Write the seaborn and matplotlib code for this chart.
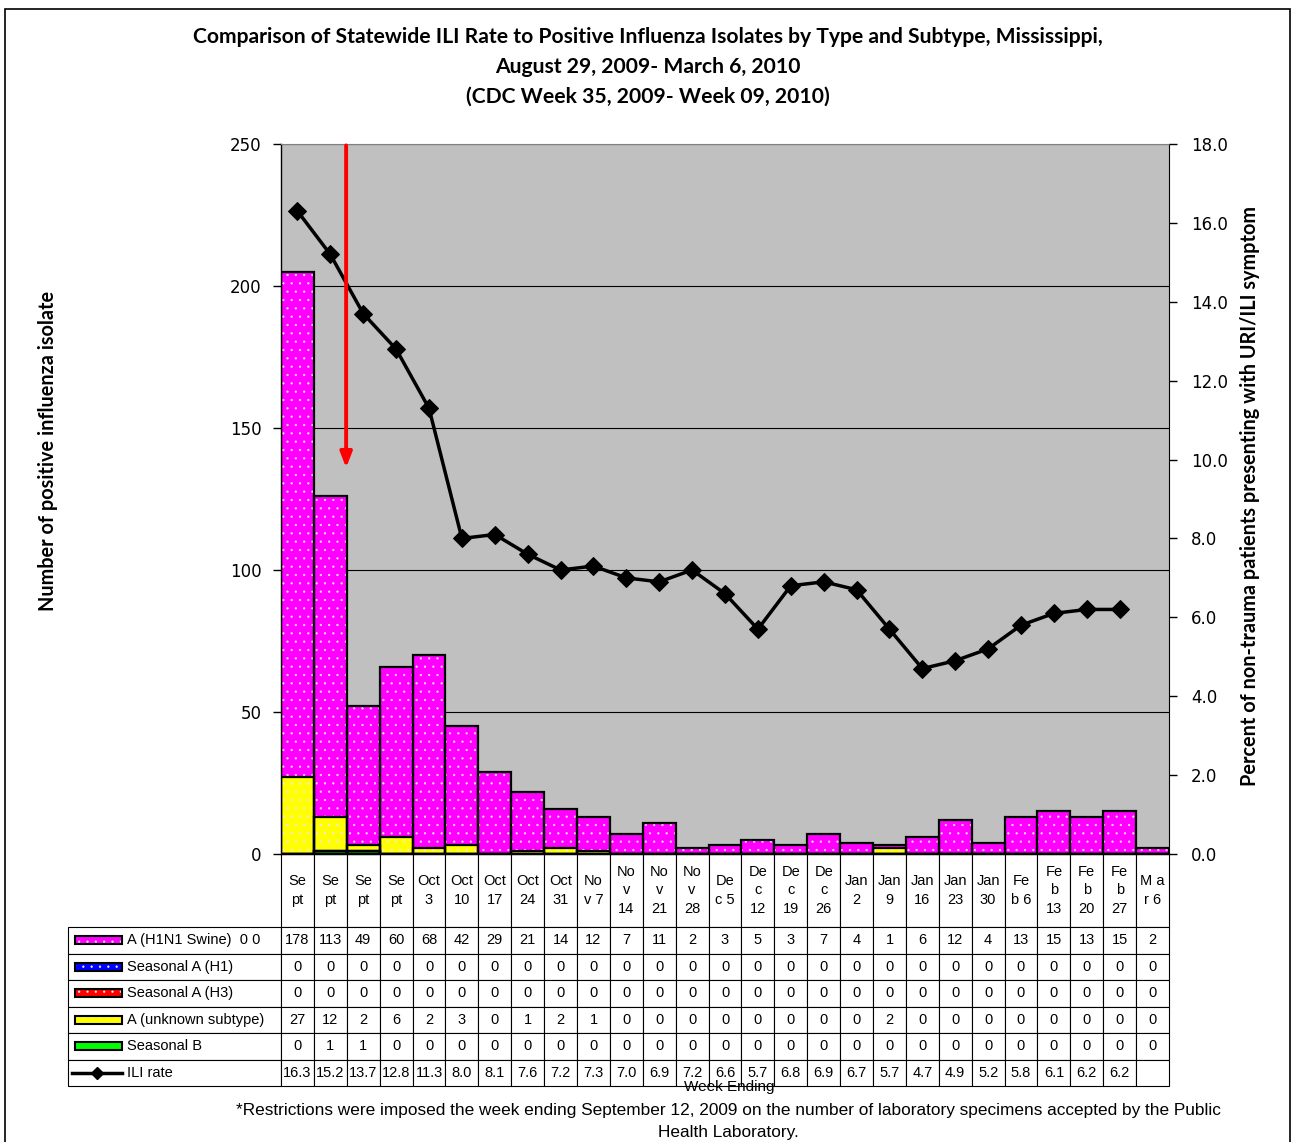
import numpy as np
import pandas as pd
import matplotlib
matplotlib.use("Agg")
import matplotlib.pyplot as plt
from matplotlib.patches import Rectangle
from matplotlib.lines import Line2D
import seaborn as sns

# week ending dates (categories) and the labels shown in the table header
week_ending = ["Sep 5", "Sep 12", "Sep 19", "Sep 26", "Oct 3", "Oct 10", "Oct 17",
               "Oct 24", "Oct 31", "Nov 7", "Nov 14", "Nov 21", "Nov 28", "Dec 5",
               "Dec 12", "Dec 19", "Dec 26", "Jan 2", "Jan 9", "Jan 16", "Jan 23",
               "Jan 30", "Feb 6", "Feb 13", "Feb 20", "Feb 27", "Mar 6"]
header_labels = ["Se\npt", "Se\npt", "Se\npt", "Se\npt", "Oct\n3", "Oct\n10", "Oct\n17",
                 "Oct\n24", "Oct\n31", "No\nv 7", "No\nv\n14", "No\nv\n21", "No\nv\n28",
                 "De\nc 5", "De\nc\n12", "De\nc\n19", "De\nc\n26", "Jan\n2", "Jan\n9",
                 "Jan\n16", "Jan\n23", "Jan\n30", "Fe\nb 6", "Fe\nb\n13", "Fe\nb\n20",
                 "Fe\nb\n27", "M a\nr 6"]

h1n1 = [178, 113, 49, 60, 68, 42, 29, 21, 14, 12, 7, 11, 2, 3, 5, 3, 7, 4, 1, 6, 12, 4, 13, 15, 13, 15, 2]
seas_h1 = [0] * 27
seas_h3 = [0] * 27
unknown = [27, 12, 2, 6, 2, 3, 0, 1, 2, 1, 0, 0, 0, 0, 0, 0, 0, 0, 2, 0, 0, 0, 0, 0, 0, 0, 0]
seas_b = [0, 1, 1, 0, 0, 0, 0, 0, 0, 0, 0, 0, 0, 0, 0, 0, 0, 0, 0, 0, 0, 0, 0, 0, 0, 0, 0]
ili_rate = [16.3, 15.2, 13.7, 12.8, 11.3, 8.0, 8.1, 7.6, 7.2, 7.3, 7.0, 6.9, 7.2, 6.6,
            5.7, 6.8, 6.9, 6.7, 5.7, 4.7, 4.9, 5.2, 5.8, 6.1, 6.2, 6.2, np.nan]

row_names = ["A (H1N1 Swine)  0 0", "Seasonal A (H1)", "Seasonal A (H3)",
             "A (unknown subtype)", "Seasonal B", "ILI rate"]
row_colors = ["#FF00FF", "#0000FF", "#FF0000", "#FFFF00", "#00FF00", None]

df = pd.DataFrame({"week": week_ending, "h1n1": h1n1, "h1": seas_h1, "h3": seas_h3,
                   "unk": unknown, "b": seas_b, "ili": ili_rate})
# stacked from the bottom: B, H1, H3, unknown, H1N1
df["c_b"] = df["b"]
df["c_h1"] = df["c_b"] + df["h1"]
df["c_h3"] = df["c_h1"] + df["h3"]
df["c_unk"] = df["c_h3"] + df["unk"]
df["c_all"] = df["c_unk"] + df["h1n1"]

plt.rcParams["hatch.linewidth"] = 0.4

W, H = 1292, 1142
fig = plt.figure(figsize=(W / 100, H / 100), dpi=100)
ax_l, ax_r, ax_t, ax_b = 281, 1169, 144, 854
axw, axh = ax_r - ax_l, ax_b - ax_t
ax = fig.add_axes([ax_l / W, 1 - ax_b / H, axw / W, axh / H])
ax.set_facecolor("#C0C0C0")

layers = [("c_all", "#FF00FF"), ("c_unk", "#FFFF00"), ("c_h3", "#FF0000"),
          ("c_h1", "#0000FF"), ("c_b", "#00FF00")]
for col, color in layers:
    sns.barplot(data=df, x="week", y=col, order=week_ending, color=color, width=1.0,
                saturation=1, edgecolor="#F8E0F8", hatch="..", linewidth=0, ax=ax, zorder=2)
    sns.barplot(data=df, x="week", y=col, order=week_ending, fill=False, width=1.0,
                edgecolor="black", linewidth=1.6, ax=ax, zorder=3)

ax.set_ylim(0, 250)
ax.set_xlim(-0.5, 26.5)
ax.set_yticks(range(0, 251, 50))
ax.yaxis.grid(True, color="black", linewidth=0.8)
ax.set_axisbelow(True)
ax.set_xticks([])
ax.set_xlabel("")
ax.set_ylabel("")
ax.tick_params(axis="y", labelsize=12, length=6, width=1, direction="out", pad=8)
for s in ["left", "bottom"]:
    ax.spines[s].set_color("black")
    ax.spines[s].set_linewidth(1)
ax.spines["top"].set_color("#808080")
ax.spines["right"].set_color("black")

# ILI rate line on the right axis
ax2 = ax.twinx()
sns.lineplot(x=np.arange(len(ili_rate)), y=ili_rate, color="black", linewidth=2.5,
             marker="D", markersize=9, markeredgecolor="black", ax=ax2)
ax2.set_ylim(0, 18)
ax2.set_yticks(np.arange(0, 18.1, 2))
ax2.set_yticklabels([f"{v:.1f}" for v in np.arange(0, 18.1, 2)])
ax2.tick_params(axis="y", labelsize=12, length=6, width=1, direction="out", pad=10)
ax2.set_xlim(-0.5, 26.5)
for s in ["left", "right", "top", "bottom"]:
    ax2.spines[s].set_visible(False)

# red arrow marking the restriction week
ax2.annotate("", xy=(1.48, 136), xytext=(1.48, 249.5), xycoords=ax.transData,
             textcoords=ax.transData,
             arrowprops=dict(arrowstyle="-|>,head_length=0.9,head_width=0.35",
                             color="#FF0000", lw=2.8, shrinkA=0, shrinkB=0),
             zorder=10)

# data table under the plot
cell_text = [[str(v) for v in h1n1], [str(v) for v in seas_h1], [str(v) for v in seas_h3],
             [str(v) for v in unknown], [str(v) for v in seas_b],
             ["" if np.isnan(v) else f"{v:.1f}" for v in ili_rate]]
hdr_px, row_px, lab_px = 73, 26.5, 211
tbl = ax.table(cellText=cell_text, rowLabels=row_names, colLabels=header_labels,
               cellLoc="center", rowLoc="left", loc="bottom")
tbl.auto_set_font_size(False)
tbl.set_fontsize(10)
for (r, c), cell in tbl.get_celld().items():
    cell.set_edgecolor("black")
    cell.set_linewidth(0.8)
    cell.get_text().set_fontfamily("Liberation Sans")
    cell.get_text().set_fontsize(10.5)
    if c == -1:
        cell.set_width(lab_px / axw)
        cell.PAD = 58 / lab_px
    else:
        cell.set_width(1 / 27)
    cell.set_height((hdr_px if r == 0 else row_px) / axh)
    if r == 0:
        cell.get_text().set_linespacing(1.45)

# legend swatches inside the row label cells
x0 = (75 - ax_l) / axw
x1 = (122 - ax_l) / axw
for i, color in enumerate(row_colors):
    yc = -(hdr_px + row_px * (i + 0.5)) / axh
    if color is None:
        ax.add_line(Line2D([(72 - ax_l) / axw, x1], [yc, yc], color="black", lw=2.5,
                           transform=ax.transAxes, clip_on=False))
        ax.add_line(Line2D([(97 - ax_l) / axw], [yc], color="black", marker="D",
                           markersize=6, transform=ax.transAxes, clip_on=False))
    else:
        hh = 8 / axh
        ax.add_patch(Rectangle((x0, yc - hh / 2), x1 - x0, hh, facecolor=color,
                               edgecolor="#F0F0F0", hatch="..", lw=0, transform=ax.transAxes,
                               clip_on=False, zorder=5))
        ax.add_patch(Rectangle((x0, yc - hh / 2), x1 - x0, hh, fill=False,
                               edgecolor="black", lw=1.5, transform=ax.transAxes,
                               clip_on=False, zorder=6))

# titles and labels
title_font = dict(family="Lato", fontweight="bold", fontsize=15.2, ha="center", va="center")
fig.text(648 / W, 1 - 37 / H, "Comparison of Statewide ILI Rate to Positive Influenza Isolates by Type and Subtype, Mississippi,", **title_font)
fig.text(648 / W, 1 - 67 / H, "August 29, 2009- March 6, 2010", **title_font)
fig.text(648 / W, 1 - 97 / H, "(CDC Week 35, 2009- Week 09, 2010)", **title_font)
fig.text(48 / W, 1 - 451 / H, "Number of positive influenza isolate", rotation=90,
         family="Lato", fontweight="bold", fontsize=14.3, ha="center", va="center")
fig.text(1250 / W, 1 - 496 / H, "Percent of non-trauma patients presenting with URI/ILI symptom",
         rotation=90, family="Lato", fontweight="bold", fontsize=14.3, ha="center", va="center")
fig.text(729 / W, 1 - 1087 / H, "Week Ending", family="Liberation Sans", fontsize=11,
         ha="center", va="center")
fig.text(728 / W, 1 - 1110 / H,
         "*Restrictions were imposed the week ending September 12, 2009 on the number of laboratory specimens accepted by the Public",
         family="Liberation Sans", fontsize=12.4, ha="center", va="center")
fig.text(728 / W, 1 - 1132 / H, "Health Laboratory.", family="Liberation Sans", fontsize=12.4,
         ha="center", va="center")

# outer frame of the chart
fig.add_artist(Rectangle((5 / W, -0.01), 1285 / W, 1 - 9 / H + 0.01, transform=fig.transFigure,
                         fill=False, edgecolor="black", lw=1.2))

fig.savefig("out.png", dpi=100)
